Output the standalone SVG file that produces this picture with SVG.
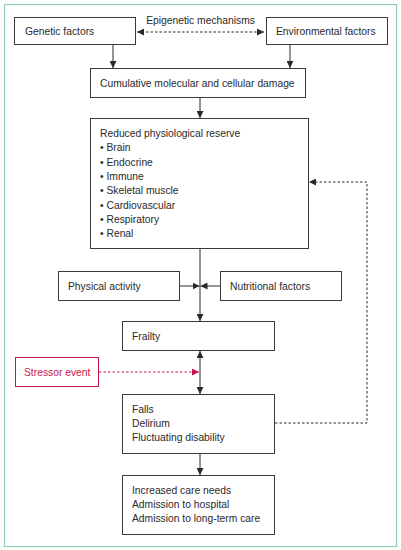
<svg xmlns="http://www.w3.org/2000/svg" width="401" height="550" viewBox="0 0 401 550">
<style>
.box{fill:#fff;stroke:#3a3a3a;stroke-width:1}
.rbox{fill:#fff;stroke:#c8174e;stroke-width:1}
text{font-family:"Liberation Sans",Arial,sans-serif;font-size:10.3px;fill:#2a2a2a}
.red{fill:#c8174e}
.ln{stroke:#2a2a2a;stroke-width:1;fill:none}
.dash{stroke:#2a2a2a;stroke-width:1;fill:none;stroke-dasharray:2.5,2}
.rdash{stroke:#c8174e;stroke-width:1;fill:none;stroke-dasharray:2.5,2}
</style>
<defs>
<marker id="ah" viewBox="0 0 10 10" refX="10" refY="5" markerWidth="7" markerHeight="7" markerUnits="userSpaceOnUse" orient="auto-start-reverse"><path d="M0,0 L10,5 L0,10 z" fill="#2a2a2a"/></marker>
<marker id="rah" viewBox="0 0 10 10" refX="10" refY="5" markerWidth="7" markerHeight="7" markerUnits="userSpaceOnUse" orient="auto"><path d="M0,0 L10,5 L0,10 z" fill="#c8174e"/></marker>
</defs>
<rect x="4.5" y="4.5" width="392" height="542" fill="#fff" stroke="#8fcbb6" stroke-width="1.2"/>
<g id="connectors">
<line class="dash" x1="137" y1="32" x2="264" y2="32" marker-start="url(#ah)" marker-end="url(#ah)"/>
<line class="ln" x1="113" y1="44" x2="113" y2="68" marker-end="url(#ah)"/>
<line class="ln" x1="290" y1="44" x2="290" y2="68" marker-end="url(#ah)"/>
<line class="ln" x1="200" y1="97" x2="200" y2="118" marker-end="url(#ah)"/>
<line class="ln" x1="200" y1="248" x2="200" y2="321" marker-end="url(#ah)"/>
<line class="ln" x1="179" y1="286" x2="199.5" y2="286" marker-end="url(#ah)"/>
<line class="ln" x1="220" y1="286" x2="200.5" y2="286" marker-end="url(#ah)"/>
<line class="ln" x1="200" y1="351" x2="200" y2="394" marker-start="url(#ah)" marker-end="url(#ah)"/>
<line class="rdash" x1="99" y1="372" x2="199" y2="372" marker-end="url(#rah)"/>
<polyline class="dash" points="275,423 367,423 367,182 309,182" marker-end="url(#ah)"/>
<line class="ln" x1="200" y1="453" x2="200" y2="475" marker-end="url(#ah)"/>
</g>
<text x="200.5" y="24" text-anchor="middle">Epigenetic mechanisms</text>
<g id="genetic"><rect class="box" x="14.5" y="17.5" width="121" height="27"/><text x="25" y="35">Genetic factors</text></g>
<g id="environmental"><rect class="box" x="266.5" y="17.5" width="121" height="27"/><text x="276" y="35">Environmental factors</text></g>
<g id="damage"><rect class="box" x="90.5" y="68.5" width="215" height="29"/><text x="100" y="87">Cumulative molecular and cellular damage</text></g>
<g id="reserve"><rect class="box" x="90.5" y="118.5" width="218" height="130"/>
<text x="100" y="137">Reduced physiological reserve</text>
<text x="100" y="151.3">• Brain</text>
<text x="100" y="165.6">• Endocrine</text>
<text x="100" y="179.9">• Immune</text>
<text x="100" y="194.2">• Skeletal muscle</text>
<text x="100" y="208.5">• Cardiovascular</text>
<text x="100" y="222.8">• Respiratory</text>
<text x="100" y="237.1">• Renal</text>
</g>
<g id="physical"><rect class="box" x="58.5" y="271.5" width="121" height="29"/><text x="68" y="290">Physical activity</text></g>
<g id="nutritional"><rect class="box" x="220.5" y="271.5" width="121" height="29"/><text x="230" y="290">Nutritional factors</text></g>
<g id="frailty"><rect class="box" x="122.5" y="321.5" width="152" height="29"/><text x="132" y="340">Frailty</text></g>
<g id="stressor"><rect class="rbox" x="15.5" y="357.5" width="83" height="29"/><text class="red" x="24" y="376">Stressor event</text></g>
<g id="falls"><rect class="box" x="122.5" y="394.5" width="152" height="59"/>
<text x="132" y="413">Falls</text><text x="132" y="427">Delirium</text><text x="132" y="441">Fluctuating disability</text></g>
<g id="care"><rect class="box" x="122.5" y="475.5" width="152" height="59"/>
<text x="132" y="494">Increased care needs</text><text x="132" y="508">Admission to hospital</text><text x="132" y="522">Admission to long-term care</text></g>
</svg>
